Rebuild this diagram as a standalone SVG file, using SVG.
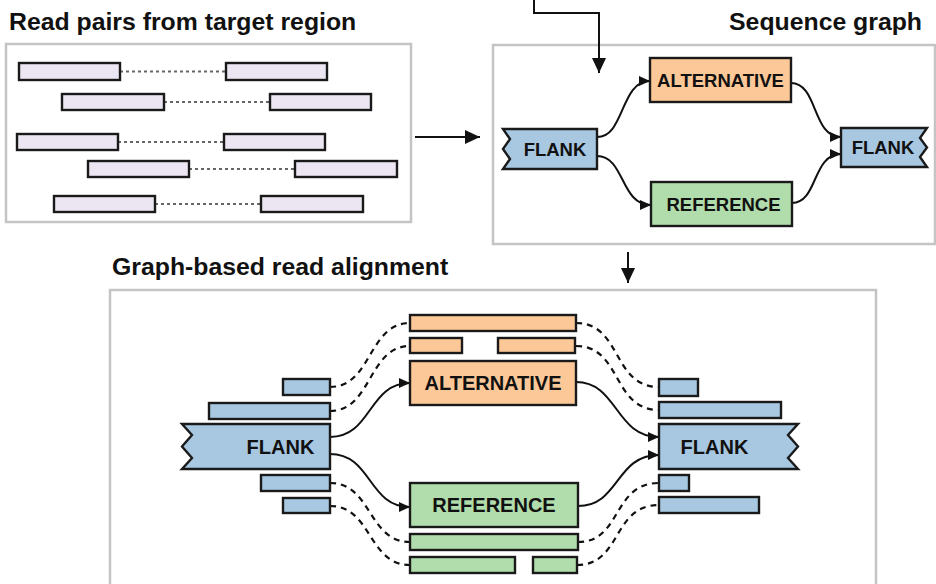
<svg xmlns="http://www.w3.org/2000/svg" width="936" height="584" viewBox="0 0 936 584">
<defs>
<marker id="arr" markerUnits="userSpaceOnUse" markerWidth="11" markerHeight="10" refX="11" refY="5" orient="auto"><path d="M0,0 L11,5 L0,10 z" fill="#111"/></marker>
<marker id="big" markerUnits="userSpaceOnUse" markerWidth="15" markerHeight="14" refX="15" refY="7" orient="auto"><path d="M0,0 L15,7 L0,14 z" fill="#111"/></marker>
</defs>
<style>
text{font-family:"Liberation Sans",Arial,sans-serif;font-weight:bold;fill:#111}
.title{font-size:24.8px}
.lbl{font-size:18.5px;text-anchor:middle}
.lbl2{font-size:20px;text-anchor:middle}
.panel{fill:#fff;stroke:#c4c4c4;stroke-width:2.5}
.node{stroke:#1a1a1a;stroke-width:2.4}
.read{fill:#ebe6f2;stroke:#1a1a1a;stroke-width:2.4}
.blue{fill:#a8c8e2}
.orange{fill:#fdc898}
.green{fill:#b1dcab}
.dot{stroke:#666;stroke-width:2;stroke-dasharray:3,3;fill:none}
.con{fill:none;stroke:#111;stroke-width:2}
.dash{fill:none;stroke:#111;stroke-width:2.2;stroke-dasharray:6,5}
</style>
<rect width="936" height="584" fill="#fff"/>

<!-- panels -->
<rect class="panel" x="6" y="44" width="405" height="178"/>
<rect class="panel" x="493" y="45" width="442" height="199"/>
<rect class="panel" x="110" y="290" width="766" height="300"/>

<text class="title" x="9" y="30">Read pairs from target region</text>
<text class="title" x="922" y="30" text-anchor="end">Sequence graph</text>
<text class="title" x="112" y="275">Graph-based read alignment</text>

<!-- read pairs -->
<g id="readpairs">
<line class="dot" x1="120" y1="71.5" x2="226" y2="71.5"/>
<line class="dot" x1="164" y1="102" x2="270" y2="102"/>
<line class="dot" x1="118" y1="142" x2="224" y2="142"/>
<line class="dot" x1="189" y1="169" x2="295" y2="169"/>
<line class="dot" x1="155" y1="204" x2="261" y2="204"/>
<rect class="read" x="19" y="63" width="101" height="17"/><rect class="read" x="226" y="63" width="101" height="17"/>
<rect class="read" x="62" y="94" width="102" height="16"/><rect class="read" x="270" y="94" width="101" height="16"/>
<rect class="read" x="17" y="134" width="101" height="16"/><rect class="read" x="224" y="134" width="101" height="16"/>
<rect class="read" x="88" y="161" width="101" height="16"/><rect class="read" x="295" y="161" width="102" height="16"/>
<rect class="read" x="54" y="196" width="101" height="16"/><rect class="read" x="261" y="196" width="102" height="16"/>
</g>

<!-- connectors -->
<g id="connectors">
<line class="con" x1="415" y1="137" x2="480" y2="137" marker-end="url(#big)"/>
<path class="con" d="M534,0 V13 H599 V73" marker-end="url(#big)"/>
<line class="con" x1="628" y1="252" x2="628" y2="283" marker-end="url(#big)"/>
<path class="con" d="M597,137 C625,137 620,81 650,81" marker-end="url(#arr)"/>
<path class="con" d="M597,156 C625,156 620,205 651,205" marker-end="url(#arr)"/>
<path class="con" d="M791,83 C818,83 812,137 841,137" marker-end="url(#arr)"/>
<path class="con" d="M792,203 C818,203 812,154 841,154" marker-end="url(#arr)"/>
<path class="con" d="M330,437 C372,437 368,383 410,383" marker-end="url(#arr)"/>
<path class="con" d="M330,454 C372,454 368,507 410,507" marker-end="url(#arr)"/>
<path class="con" d="M576,382 C618,382 615,437 659,437" marker-end="url(#arr)"/>
<path class="con" d="M578,506 C620,506 615,455 659,455" marker-end="url(#arr)"/>
<path class="dash" d="M330,387 C372,387 368,323 410,323"/>
<path class="dash" d="M330,411 C372,411 368,346 410,346"/>
<path class="dash" d="M330,483 C372,483 368,542 410,542"/>
<path class="dash" d="M330,506 C372,506 368,565 410,565"/>
<path class="dash" d="M576,323 C622,323 612,387 659,387"/>
<path class="dash" d="M576,346 C622,346 612,410 659,410"/>
<path class="dash" d="M578,542 C622,542 612,483 659,483"/>
<path class="dash" d="M577,565 C622,565 612,505 659,505"/>
</g>

<!-- sequence graph nodes -->
<g id="sg-flank-left"><polygon class="node blue" points="503,129 597,129 597,169 503,169 510,159 503,149 510,139"/><text class="lbl" x="555" y="156">FLANK</text></g>
<g id="sg-alternative"><rect class="node orange" x="650" y="58" width="141" height="44"/><text class="lbl" x="720.5" y="86.5">ALTERNATIVE</text></g>
<g id="sg-reference"><rect class="node green" x="651" y="182" width="141" height="44"/><text class="lbl" x="723.5" y="210.5">REFERENCE</text></g>
<g id="sg-flank-right"><polygon class="node blue" points="841,128 927,128 920,138 927,147.5 920,157 927,167 841,167"/><text class="lbl" x="883" y="154">FLANK</text></g>

<!-- alignment nodes -->
<g id="al-flank-left"><polygon class="node blue" points="182,424 330,424 330,469 182,469 192,458 182,446.5 192,435"/><text class="lbl2" x="280.5" y="453.5">FLANK</text></g>
<g id="al-alternative"><rect class="node orange" x="410" y="361" width="166" height="44"/><text class="lbl2" x="493" y="390">ALTERNATIVE</text></g>
<g id="al-reference"><rect class="node green" x="410" y="483" width="168" height="44"/><text class="lbl2" x="494" y="512">REFERENCE</text></g>
<g id="al-flank-right"><polygon class="node blue" points="659,424 798,424 788,435 798,446.5 788,458 798,469 659,469"/><text class="lbl2" x="714.5" y="453.5">FLANK</text></g>

<g id="al-reads">
<rect class="node orange" x="410" y="315" width="166" height="16"/>
<rect class="node orange" x="410" y="338" width="52" height="15"/>
<rect class="node orange" x="498" y="338" width="77" height="15"/>
<rect class="node green" x="410" y="534" width="168" height="16"/>
<rect class="node green" x="410" y="557" width="105" height="16"/>
<rect class="node green" x="533" y="557" width="44" height="16"/>
<rect class="node blue" x="283" y="379" width="47" height="16"/>
<rect class="node blue" x="209" y="403" width="121" height="16"/>
<rect class="node blue" x="261" y="475" width="69" height="16"/>
<rect class="node blue" x="283" y="498" width="47" height="15"/>
<rect class="node blue" x="659" y="379" width="39" height="17"/>
<rect class="node blue" x="659" y="402" width="122" height="16"/>
<rect class="node blue" x="659" y="475" width="30" height="16"/>
<rect class="node blue" x="659" y="497" width="100" height="16"/>
</g>
</svg>
